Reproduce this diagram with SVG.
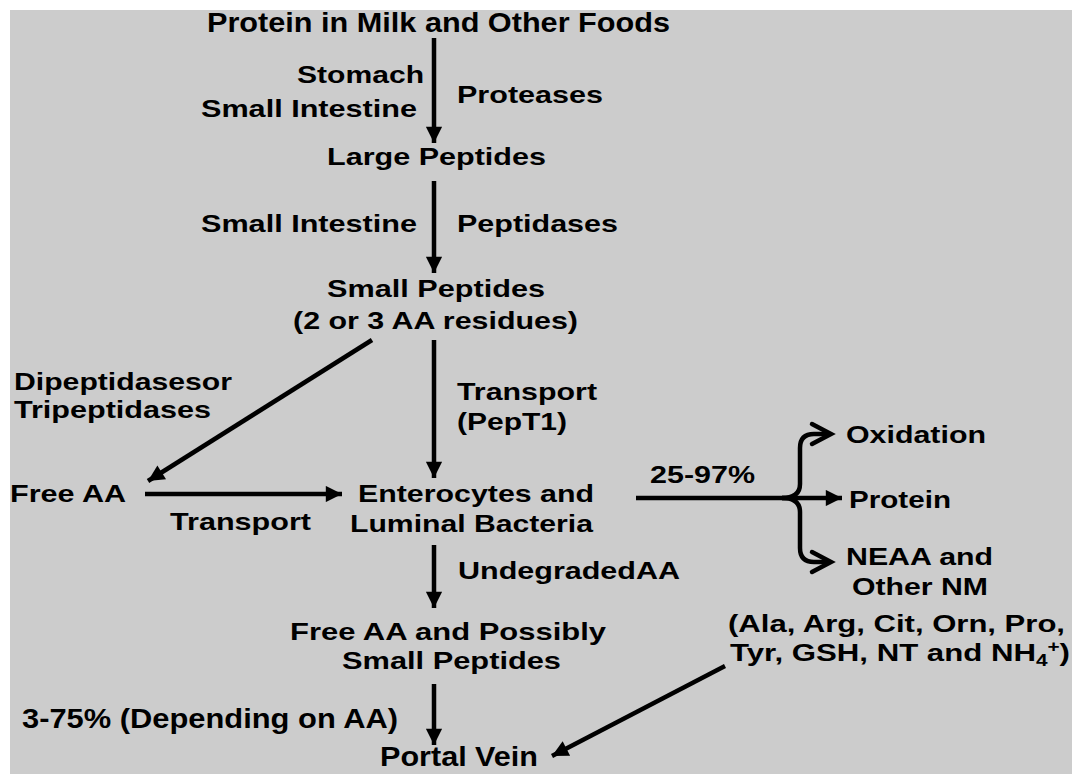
<svg xmlns="http://www.w3.org/2000/svg" width="1076" height="774" viewBox="0 0 1076 774">
<defs>
<style>
text{font-family:"Liberation Sans",Arial,sans-serif;font-weight:bold;font-size:24px;fill:#000}
text.tall{font-size:27px}
.ln{stroke:#000;stroke-width:4.5;fill:none}
.chev{stroke:#000;stroke-width:4.5;fill:none;stroke-linecap:round;stroke-linejoin:miter}
</style>
<marker id="ah" viewBox="0 0 10 10" refX="10" refY="5" markerWidth="4" markerHeight="3.6" orient="auto" markerUnits="strokeWidth">
<path d="M0,0 L10,5 L0,10 z" fill="#000"/>
</marker>
</defs>
<rect x="0" y="0" width="1076" height="774" fill="#ffffff"/>
<rect x="10" y="10" width="1062" height="764" fill="#cccccc"/>

<g id="connectors">
<line class="ln" x1="434" y1="38" x2="434" y2="143" marker-end="url(#ah)"/>
<line class="ln" x1="434" y1="181" x2="434" y2="273" marker-end="url(#ah)"/>
<line class="ln" x1="434" y1="340" x2="434" y2="478" marker-end="url(#ah)"/>
<line class="ln" x1="372" y1="340" x2="148" y2="481" marker-end="url(#ah)"/>
<line class="ln" x1="145" y1="494" x2="342" y2="494" marker-end="url(#ah)"/>
<line class="ln" x1="636" y1="498" x2="786" y2="498"/>
<path class="ln" d="M782 498 Q800 498 800 484 L800 448 Q800 434 814 434 L828 434"/>
<path class="chev" d="M812 424 L831 434 L812 444"/>
<path class="ln" d="M782 498 Q800 498 800 512 L800 548 Q800 562 814 562 L828 562"/>
<path class="chev" d="M812 552 L831 562 L812 572"/>
<line class="ln" x1="786" y1="498" x2="842" y2="498" marker-end="url(#ah)"/>
<line class="ln" x1="434" y1="545" x2="434" y2="608" marker-end="url(#ah)"/>
<line class="ln" x1="434" y1="684" x2="434" y2="745" marker-end="url(#ah)"/>
<line class="ln" x1="725" y1="666" x2="552" y2="756" marker-end="url(#ah)"/>
</g>

<g id="n-protein-foods"><text class="tall" x="207" y="32" textLength="463" lengthAdjust="spacingAndGlyphs">Protein in Milk and Other Foods</text></g>
<g id="l-stomach"><text x="297" y="83" textLength="127" lengthAdjust="spacingAndGlyphs">Stomach</text>
<text x="201" y="117" textLength="216" lengthAdjust="spacingAndGlyphs">Small Intestine</text></g>
<g id="l-proteases"><text x="457" y="103" textLength="146" lengthAdjust="spacingAndGlyphs">Proteases</text></g>
<g id="n-large-peptides"><text x="327" y="165" textLength="219" lengthAdjust="spacingAndGlyphs">Large Peptides</text></g>
<g id="l-small-intestine"><text x="201" y="232" textLength="216" lengthAdjust="spacingAndGlyphs">Small Intestine</text></g>
<g id="l-peptidases"><text x="457" y="232" textLength="161" lengthAdjust="spacingAndGlyphs">Peptidases</text></g>
<g id="n-small-peptides"><text x="327" y="297" textLength="218" lengthAdjust="spacingAndGlyphs">Small Peptides</text>
<text x="293" y="329" textLength="285" lengthAdjust="spacingAndGlyphs">(2 or 3 AA residues)</text></g>
<g id="l-dipeptidases"><text x="14" y="390" textLength="218" lengthAdjust="spacingAndGlyphs">Dipeptidasesor</text>
<text x="14" y="418" textLength="197" lengthAdjust="spacingAndGlyphs">Tripeptidases</text></g>
<g id="l-transport-pept1"><text x="457" y="400" textLength="140" lengthAdjust="spacingAndGlyphs">Transport</text>
<text x="457" y="430" textLength="110" lengthAdjust="spacingAndGlyphs">(PepT1)</text></g>
<g id="n-free-aa"><text x="10" y="502" textLength="116" lengthAdjust="spacingAndGlyphs">Free AA</text></g>
<g id="l-transport"><text x="170" y="530" textLength="141" lengthAdjust="spacingAndGlyphs">Transport</text></g>
<g id="n-enterocytes"><text x="358" y="502" textLength="236" lengthAdjust="spacingAndGlyphs">Enterocytes and</text>
<text x="350" y="532" textLength="243" lengthAdjust="spacingAndGlyphs">Luminal Bacteria</text></g>
<g id="l-pct"><text x="650" y="483" textLength="105" lengthAdjust="spacingAndGlyphs">25-97%</text></g>
<g id="n-oxidation"><text x="846" y="443" textLength="140" lengthAdjust="spacingAndGlyphs">Oxidation</text></g>
<g id="n-protein"><text x="849" y="508" textLength="102" lengthAdjust="spacingAndGlyphs">Protein</text></g>
<g id="n-neaa"><text x="846" y="565" textLength="147" lengthAdjust="spacingAndGlyphs">NEAA and</text>
<text x="852" y="595" textLength="136" lengthAdjust="spacingAndGlyphs">Other NM</text></g>
<g id="l-undegraded"><text x="458" y="579" textLength="222" lengthAdjust="spacingAndGlyphs">UndegradedAA</text></g>
<g id="n-free-aa-small"><text x="290" y="640" textLength="316" lengthAdjust="spacingAndGlyphs">Free AA and Possibly</text>
<text x="342" y="669" textLength="219" lengthAdjust="spacingAndGlyphs">Small Peptides</text></g>
<g id="n-list"><text x="728" y="632" textLength="337" lengthAdjust="spacingAndGlyphs">(Ala, Arg, Cit, Orn, Pro,</text>
<text x="730" y="661" textLength="340" lengthAdjust="spacingAndGlyphs">Tyr, GSH, NT and NH<tspan font-size="16" dy="5">4</tspan><tspan font-size="16" dy="-14">+</tspan><tspan dy="9">)</tspan></text></g>
<g id="l-3-75"><text class="tall" x="22" y="728" textLength="376" lengthAdjust="spacingAndGlyphs">3-75% (Depending on AA)</text></g>
<g id="n-portal-vein"><text class="tall" x="380" y="766" textLength="158" lengthAdjust="spacingAndGlyphs">Portal Vein</text></g>
</svg>
